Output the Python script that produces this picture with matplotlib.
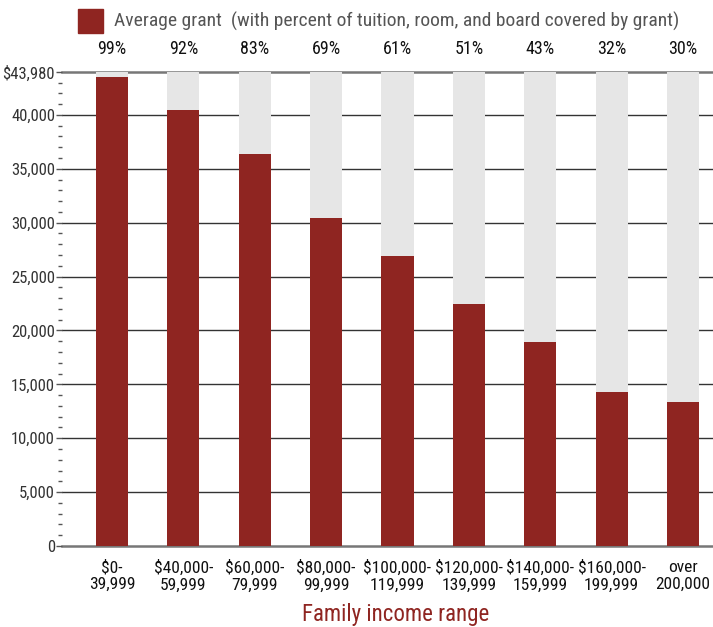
import matplotlib
matplotlib.use("Agg")
import matplotlib.pyplot as plt
from matplotlib.ticker import MultipleLocator, FixedLocator
from matplotlib.patches import Rectangle

categories = ["$0-\n39,999", "$40,000-\n59,999", "$60,000-\n79,999", "$80,000-\n99,999",
              "$100,000-\n119,999", "$120,000-\n139,999", "$140,000-\n159,999",
              "$160,000-\n199,999", "over\n200,000"]
grants = [43500, 40450, 36400, 30450, 26900, 22500, 18950, 14300, 13350]
percents = ["99%", "92%", "83%", "69%", "61%", "51%", "43%", "32%", "30%"]
full_cost = 43980
yticks = [0, 5000, 10000, 15000, 20000, 25000, 30000, 35000, 40000, 43980]
yticklabels = ["0", "5,000", "10,000", "15,000", "20,000", "25,000", "30,000",
               "35,000", "40,000", "$43,980"]

RED = "#8f2521"
GREY_BAR = "#e6e6e6"
FONT = ["Roboto Condensed", "DejaVu Sans"]
plt.rcParams["font.family"] = FONT

fig = plt.figure(figsize=(7.13, 6.27), dpi=100)
ax = fig.add_axes([62/713, 1-546/627, 1-62/713, (546-72)/627])

x = list(range(len(categories)))
ax.bar(x, [full_cost]*len(x), width=0.45, color=GREY_BAR, zorder=2)
ax.bar(x, grants, width=0.45, color=RED, zorder=3)

ax.set_xlim(-0.70, 8.42)
ax.set_ylim(0, full_cost)
for s in ax.spines.values():
    s.set_visible(False)

ax.yaxis.set_major_locator(FixedLocator(yticks))
ax.set_yticklabels(yticklabels, fontsize=12, color="#333333")
ax.yaxis.set_minor_locator(MultipleLocator(1000))
ax.tick_params(axis="y", which="major", length=4, width=1, color="#555555", pad=1)
ax.tick_params(axis="y", which="minor", length=3, width=1, color="#555555")

for v in yticks:
    if v == 0 or v == full_cost:
        ax.axhline(v, color="#777777", lw=1.8, zorder=1, clip_on=False)
    else:
        ax.axhline(v, color="#333333", lw=1.0, zorder=1)

ax.set_xticks(x)
ax.set_xticklabels(categories, fontsize=12.5, color="#111111", linespacing=1.15)
ax.tick_params(axis="x", length=0, pad=10)

for xi, p in zip(x, percents):
    ax.text(xi, full_cost + 2150, p, ha="center", va="center", fontsize=13, color="#111111")

fig.text(0.555, 1-614/627, "Family income range", ha="center", va="center",
         fontsize=16.5, color=RED)

fig.patches.append(Rectangle((78/713, 1-33/627), 25/713, 24/627,
                             transform=fig.transFigure, color=RED))
fig.text(114/713, 1-21/627, "Average grant  (with percent of tuition, room, and board covered by grant)",
         ha="left", va="center", fontsize=14, color="#555555")

fig.savefig("out.png", dpi=100)
